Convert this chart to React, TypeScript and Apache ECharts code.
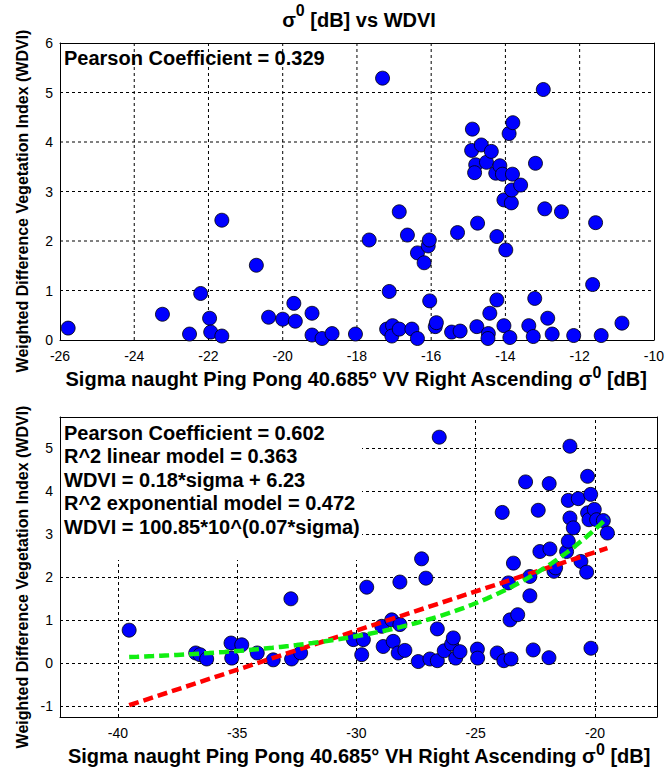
import React, { useEffect, useRef } from "react";
import * as echarts from "echarts";

// ---- Top plot: VV sigma0 vs WDVI ----
const topSigma = [
  -25.78, -23.24, -22.51, -22.21, -21.97, -21.94, -21.64, -21.64, -20.71, -20.38,
  -20.0, -19.7, -19.66, -19.21, -19.21, -18.94, -18.67, -18.04, -17.31, -12.98,
  -17.67, -17.13, -17.2, -17.04, -17.06, -16.86, -16.86, -16.64, -16.52, -16.37,
  -16.37, -16.19, -16.08, -16.05, -16.04, -15.89, -15.86, -15.45, -15.22, -15.29,
  -14.89, -14.91, -14.65, -14.8, -14.83, -14.51, -14.38, -14.75, -14.77, -14.46,
  -14.47, -14.42, -14.23, -14.23, -14.26, -14.15, -14.08, -14.04, -13.99, -14.04,
  -13.84, -13.9, -13.8, -13.81, -13.83, -13.59, -13.88, -13.37, -13.25, -13.21,
  -13.19, -12.94, -12.86, -12.74, -12.49, -12.16, -11.65, -11.57, -11.42, -10.86,
];
const topWdvi = [
  0.24, 0.52, 0.12, 0.94, 0.44, 0.16, 0.08, 2.42, 1.51, 0.46,
  0.42, 0.74, 0.38, 0.54, 0.1, 0.03, 0.13, 0.12, 5.29, 5.06,
  2.02, 0.98, 0.22, 0.29, 0.08, 0.22, 2.59, 2.12, 0.22, 0.03,
  1.76, 1.56, 1.9, 2.02, 0.79, 0.27, 0.35, 0.16, 0.18, 2.17,
  4.26, 3.83, 3.94, 3.54, 3.38, 3.59, 3.81, 2.36, 0.27, 0.13,
  0.03, 0.54, 0.81, 2.09, 3.37, 3.52, 3.35, 0.29, 1.82, 2.83,
  2.77, 4.17, 4.39, 3.35, 3.03, 3.13, 0.05, 0.29, 0.07, 0.84,
  3.57, 2.65, 0.44, 0.12, 2.59, 0.09, 1.12, 2.37, 0.09, 0.34,
];

// ---- Bottom plot: VH sigma0 vs WDVI ----
const botSigma = [
  -39.53, -36.74, -36.56, -36.28, -35.26, -34.81, -35.23, -34.16, -33.49, -32.75,
  -32.72, -32.34, -30.13, -29.71, -29.78, -29.57, -28.88, -28.94, -28.52, -28.46,
  -28.18, -28.18, -28.25, -27.97, -27.41, -27.27, -27.09, -26.92, -26.61, -26.61,
  -26.53, -26.32, -26.01, -25.94, -25.84, -25.66, -24.93, -24.92, -24.1, -23.82,
  -23.52, -23.89, -23.56, -23.24, -23.42, -23.63, -22.73, -22.73, -22.59, -22.91,
  -22.38, -22.31, -21.92, -21.89, -21.93, -21.72, -21.65, -21.19, -21.12, -21.05,
  -21.12, -21.05, -20.91, -20.7, -20.59, -20.35, -20.31, -20.18, -20.31, -20.25,
  -20.03, -19.93, -19.65, -19.48, -20.17,
];
const botWdvi = [
  0.76, 0.23, 0.19, 0.09, 0.46, 0.42, 0.11, 0.23, 0.07, 1.49,
  0.09, 0.23, 0.54, 0.54, 0.19, 1.76, 0.38, 0.85, 1.0, 0.5,
  0.89, 1.88, 0.23, 0.29, 0.03, 2.42, 1.97, 0.09, 0.05, 0.79,
  5.25, 0.28, 0.44, 0.58, 0.11, 0.26, 0.32, 0.11, 0.23, 0.05,
  0.09, 3.5, 1.0, 1.12, 2.32, 1.86, 2.01, 1.56, 0.3, 4.21,
  3.55, 2.59, 4.17, 2.65, 0.12, 2.13, 2.21, 2.59, 2.83, 5.04,
  3.78, 3.37, 3.14, 3.82, 2.36, 2.11, 4.34, 3.92, 3.49, 3.33,
  3.57, 3.33, 3.31, 3.02, 0.34,
];

// fitted model coefficients (as drawn)
const LIN_SLOPE = 0.1823;
const LIN_INTERCEPT = 6.22;
const EXP_A = 78;
const EXP_B = 0.07;

// axis ranges and ticks
const topXRange = [-26, -10];
const topYRange = [0, 6];
const botXRange = [-42.43, -17.4];
const botYRange = [-1.26, 5.72];
const topXTicks = [-24, -22, -20, -18, -16, -14, -12];
const topYTicks = [1, 2, 3, 4, 5];
const botXTicks = [-40, -35, -30, -25, -20];
const botYTicks = [-1, 0, 1, 2, 3, 4, 5];

// texts
const titleText = "{g|σ}{sup|0}{g| [dB] vs WDVI}";
const yName = "Weighted Difference Vegetation Index (WDVI)";
const topXName = "{g|Sigma naught Ping Pong 40.685° VV Right Ascending σ}{sup|0}{g| [dB]}";
const botXName = "{g|Sigma naught Ping Pong 40.685° VH Right Ascending σ}{sup|0}{g| [dB]}";
const topStats = ["Pearson Coefficient = 0.329"];
const botStats = [
  "Pearson Coefficient = 0.602",
  "R^2 linear model = 0.363",
  "WDVI = 0.18*sigma + 6.23",
  "R^2 exponential model = 0.472",
  "WDVI = 100.85*10^(0.07*sigma)",
];

const FONT = "'Liberation Sans', Arial, sans-serif";

export default function App() {
  const ref = useRef<HTMLDivElement>(null);
  useEffect(() => {
    if (!ref.current) return;
    const chart = echarts.init(ref.current, undefined, { renderer: "svg" });

    const topPts = topSigma.map((x, i) => [x, topWdvi[i]]);
    const botPts = botSigma.map((x, i) => [x, botWdvi[i]]);
    const xLo = Math.min(...botSigma);
    const xHi = Math.max(...botSigma);
    const linPts = [xLo, xHi].map((x) => [x, LIN_SLOPE * x + LIN_INTERCEPT]);
    const expPts: number[][] = [];
    const N = 60;
    for (let i = 0; i <= N; i++) {
      const x = xLo + ((xHi - xLo) * i) / N;
      expPts.push([x, EXP_A * Math.pow(10, EXP_B * x)]);
    }

    const gridMarks = (xs: number[], ys: number[]) => ({
      silent: true,
      z: 1,
      symbol: ["none", "none"],
      animation: false,
      label: { show: false },
      emphasis: { disabled: true },
      lineStyle: { color: "#000", width: 1, type: [3, 3] },
      data: [...xs.map((v) => ({ xAxis: v })), ...ys.map((v) => ({ yAxis: v }))],
    });

    const label = { color: "#000", fontSize: 14, fontFamily: FONT };
    const axisLine = () => ({ show: true, onZero: false, lineStyle: { color: "#000" } });
    const frameAxis = () => ({
      type: "value", axisLine: axisLine(), axisTick: { show: false }, axisLabel: { show: false }, splitLine: { show: false },
    });

    const richG = { fontSize: 20, fontWeight: "bold", fontFamily: FONT, color: "#000" };
    const richSup = (lift: number) => ({
      fontSize: 16, fontWeight: "bold", fontFamily: FONT, color: "#000", padding: [0, 0, lift, 0],
    });

    const statText = (lines: string[], x: number, y0: number, dy: number) =>
      lines.map((t, i) => ({
        type: "text",
        x,
        y: y0 + i * dy,
        z: 101,
        style: {
          text: t,
          fontSize: 20,
          fontWeight: "bold",
          fontFamily: FONT,
          fill: "#000",
          align: "left",
          verticalAlign: "middle",
        },
      }));

    const marker = { color: "#0000ff", borderColor: "#000", borderWidth: 0.8, opacity: 1 };

    const baseGraphic: any[] = [
      {
        type: "text", x: 359, y: 20, z: 100,
        style: {
          text: titleText, align: "center", verticalAlign: "middle",
          rich: { g: richG, sup: richSup(19) },
        },
      },
      {
        type: "text", x: 356, y: 379, z: 100,
        style: {
          text: topXName, align: "center", verticalAlign: "middle",
          rich: { g: richG, sup: richSup(14) },
        },
      },
      {
        type: "text", x: 359, y: 756, z: 100,
        style: {
          text: botXName, align: "center", verticalAlign: "middle",
          rich: { g: richG, sup: richSup(14) },
        },
      },
      {
        type: "text", x: 22, y: 201, rotation: Math.PI / 2, z: 100,
        style: {
          text: yName, fontSize: 16, fontWeight: "bold", fontFamily: FONT, fill: "#000",
          align: "center", verticalAlign: "middle",
        },
      },
      {
        type: "text", x: 22, y: 577, rotation: Math.PI / 2, z: 100,
        style: {
          text: yName, fontSize: 16, fontWeight: "bold", fontFamily: FONT, fill: "#000",
          align: "center", verticalAlign: "middle",
        },
      },
      {
        type: "rect", z: 100,
        shape: { x: 61, y: 418, width: 301, height: 142 },
        style: { fill: "#fff" },
      },
      ...statText(topStats, 64, 58, 0),
      ...statText(botStats, 64, 433, 23.4),
    ];

    chart.setOption({
      animation: false,
      grid: [
        { left: 60, top: 43, width: 597, height: 297 },
        { left: 60, top: 417, width: 597, height: 300 },
      ],
      xAxis: [
        {
          gridIndex: 0, type: "value", min: topXRange[0], max: topXRange[1], interval: 2,
          axisLine: axisLine(), axisTick: { show: false }, splitLine: { show: false },
          axisLabel: { ...label, margin: 9 },
        },
        {
          gridIndex: 1, type: "value", min: botXRange[0], max: botXRange[1],
          axisLine: axisLine(),
          axisTick: { show: false, customValues: botXTicks },
          splitLine: { show: false },
          axisLabel: { ...label, margin: 9, customValues: botXTicks },
        },
        { ...frameAxis(), gridIndex: 0, position: "top", min: topXRange[0], max: topXRange[1] },
        { ...frameAxis(), gridIndex: 1, position: "top", min: botXRange[0], max: botXRange[1] },
      ],
      yAxis: [
        {
          gridIndex: 0, type: "value", min: topYRange[0], max: topYRange[1], interval: 1,
          axisLine: axisLine(), axisTick: { show: false }, splitLine: { show: false },
          axisLabel: { ...label, margin: 7 },
        },
        {
          gridIndex: 1, type: "value", min: botYRange[0], max: botYRange[1],
          axisLine: axisLine(),
          axisTick: { show: false, customValues: botYTicks },
          splitLine: { show: false },
          axisLabel: { ...label, margin: 7, customValues: botYTicks },
        },
        { ...frameAxis(), gridIndex: 0, position: "right", min: topYRange[0], max: topYRange[1] },
        { ...frameAxis(), gridIndex: 1, position: "right", min: botYRange[0], max: botYRange[1] },
      ],
      series: [
        {
          type: "scatter", xAxisIndex: 0, yAxisIndex: 0, data: topPts, symbolSize: 14, z: 3, clip: false,
          itemStyle: marker,
        },
        {
          type: "scatter", xAxisIndex: 1, yAxisIndex: 1, data: botPts, symbolSize: 14, z: 3, clip: false,
          itemStyle: marker, markLine: gridMarks(botXTicks, botYTicks),
        },
        {
          type: "line", xAxisIndex: 1, yAxisIndex: 1, data: linPts, symbol: "none", z: 4,
          lineStyle: { color: "#ff0000", width: 4.5, type: [10, 5] },
        },
        {
          type: "line", xAxisIndex: 1, yAxisIndex: 1, data: expPts, symbol: "none", z: 5,
          lineStyle: { color: "#11ee11", width: 4.5, type: [10, 5] },
        },
      ],
      graphic: baseGraphic,
    });

    // top-plot grid lines, placed through the chart's own scales
    try {
      const toPx = (v: number[]) => chart.convertToPixel({ seriesIndex: 0 }, v) as any;
      const gl = (a: any, b: any) => ({
        type: "line", z: 1, silent: true,
        shape: { x1: a[0], y1: a[1], x2: b[0], y2: b[1] },
        style: { stroke: "#000", lineWidth: 1, lineDash: [3, 3] },
      });
      const topLines: any[] = [];
      topXTicks.forEach((v) => {
        const a = toPx([v, topYRange[0]]);
        const b = toPx([v, topYRange[1]]);
        if (a && b && isFinite(a[0]) && isFinite(b[1])) topLines.push(gl(a, b));
      });
      topYTicks.forEach((v) => {
        const a = toPx([topXRange[0], v]);
        const b = toPx([topXRange[1], v]);
        if (a && b && isFinite(a[1]) && isFinite(b[0])) topLines.push(gl(a, b));
      });
      if (topLines.length) chart.setOption({ graphic: [...baseGraphic, ...topLines] });
    } catch (e) {
      // keep chart as is
    }

    return () => chart.dispose();
  }, []);

  return (
    <div
      ref={ref}
      style={{ position: "absolute", left: 0, top: 0, width: 667, height: 773, background: "#fff" }}
    />
  );
}
